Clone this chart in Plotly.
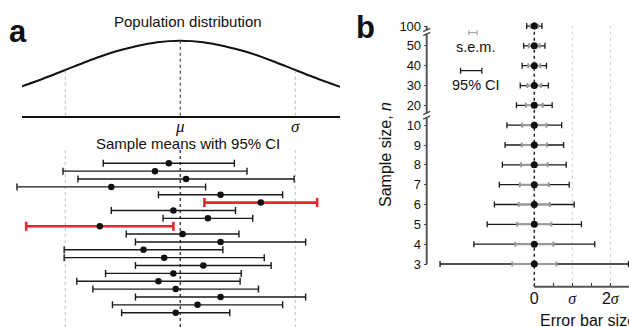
import plotly.graph_objects as go

W, H = 629, 327

# ---------------- data ----------------
# Panel a, population curve: height relative to peak, read at x positions (sigma units)
curve_x = [-1.4, -1.2, -1.0, -0.8, -0.6, -0.4, -0.2, 0.0, 0.2, 0.4, 0.6, 0.8, 1.0, 1.2, 1.4]
curve_y = [0.38, 0.49, 0.61, 0.73, 0.84, 0.92, 0.98, 1.00, 0.98, 0.92, 0.84, 0.73, 0.61, 0.49, 0.38]
curve_ticks = [0, 1]
curve_ticklabels = ['μ', 'σ']

# Panel a, 20 sample means (sigma units, relative to mu) and 95% CI half-widths
sample_means = [-0.10, -0.22, 0.05, -0.60, 0.35, 0.70, -0.06, 0.24, -0.70, 0.02,
                0.35, -0.32, -0.14, 0.20, -0.06, -0.19, -0.04, 0.35, 0.15, -0.04]
ci_half = [0.57, 0.80, 0.94, 0.82, 0.54, 0.49, 0.54, 0.39, 0.64, 0.49,
           0.74, 0.69, 0.87, 0.59, 0.59, 0.71, 0.72, 0.74, 0.74, 0.47]

# Panel b, sample sizes and error bar half-sizes (sigma units)
n_labels = ['3', '4', '5', '6', '7', '8', '9', '10', '20', '30', '40', '50', '100']
sem_size = [0.58, 0.50, 0.45, 0.41, 0.38, 0.35, 0.33, 0.32, 0.22, 0.18, 0.16, 0.14, 0.10]
ci_size = [2.48, 1.59, 1.24, 1.05, 0.92, 0.84, 0.77, 0.72, 0.47, 0.37, 0.32, 0.28, 0.20]
legend_sem_half = 0.11
legend_ci_half = 0.28

# ---------------- geometry helpers (pixel -> paper / data) ----------------
def px(p):
    return p / W

def py(p):
    return 1 - p / H

# panel a: mu at 180.3 px, sigma = 115 px
A_MU, A_SIG = 180.3, 115.0
def ax_(p):
    return (p - A_MU) / A_SIG

# panel a lower rows: row 1 at 163.3 px, 7.863 px per row
ROW0, ROWSTEP = 163.3, 7.863
# panel b: 0 at 534.3 px, sigma = 38 px; n index 0 at 264 px, 19.83 px per step
B_0, B_SIG = 534.3, 38.0
B_Y0, B_YSTEP = 264.0, 19.83
def bx(p):
    return (p - B_0) / B_SIG
def by(p):
    return (B_Y0 - p) / B_YSTEP

fig = go.Figure()

# ---------------- panel a, top ----------------
fig.add_trace(go.Scatter(x=curve_x, y=curve_y, mode='lines',
                         line=dict(color='#111', width=2, shape='spline'),
                         xaxis='x', yaxis='y', hoverinfo='skip'))

curve_at = dict(zip(curve_x, curve_y))
shapes = []
for xv, col, wd in [(0.0, '#555', 1.3), (-1.0, '#bbb', 1), (1.0, '#bbb', 1)]:
    shapes.append(dict(type='line', xref='x', yref='y', x0=xv, x1=xv, y0=0, y1=curve_at[xv],
                       line=dict(color=col, width=wd, dash='dot')))

# ---------------- panel a, bottom ----------------
rows = list(range(1, len(sample_means) + 1))
hit = [i for i in range(len(rows)) if abs(sample_means[i]) <= ci_half[i]]
miss = [i for i in range(len(rows)) if abs(sample_means[i]) > ci_half[i]]

for xv, col, wd in [(0.0, '#444', 1.5), (-1.0, '#ccc', 1.2), (1.0, '#ccc', 1.2)]:
    shapes.append(dict(type='line', xref='x2', yref='y2 domain', x0=xv, x1=xv, y0=0, y1=1,
                       line=dict(color=col, width=wd, dash='dot'), layer='below'))

fig.add_trace(go.Scatter(
    x=[sample_means[i] for i in hit], y=[rows[i] for i in hit], mode='markers',
    marker=dict(size=6.5, color='#111'),
    error_x=dict(type='data', array=[ci_half[i] for i in hit], symmetric=True,
                 color='#1a1a1a', thickness=1.4, width=3.5),
    xaxis='x2', yaxis='y2', hoverinfo='skip'))
fig.add_trace(go.Scatter(
    x=[sample_means[i] for i in miss], y=[rows[i] for i in miss], mode='markers',
    marker=dict(size=6.5, color='#111'),
    error_x=dict(type='data', array=[ci_half[i] for i in miss], symmetric=True,
                 color='#e8262d', thickness=2.6, width=4.5),
    xaxis='x2', yaxis='y2', hoverinfo='skip'))

# ---------------- panel b ----------------
idx = list(range(len(n_labels)))
# reference lines
shapes.append(dict(type='line', xref='x3', yref='y3', x0=0, x1=0, y0=by(286.7), y1=by(22),
                   line=dict(color='#222', width=1.5, dash='dot'), layer='below'))
for xv in [1, 2]:
    shapes.append(dict(type='line', xref='x3', yref='y3', x0=xv, x1=xv, y0=by(286.7), y1=by(26),
                       line=dict(color='#ccc', width=1, dash='dot'), layer='below'))

fig.add_trace(go.Scatter(x=[0] * len(idx), y=idx, mode='markers',
                         marker=dict(size=1, opacity=0),
                         error_x=dict(type='data', array=ci_size, symmetric=True,
                                      color='#1a1a1a', thickness=1.3, width=3),
                         xaxis='x3', yaxis='y3', hoverinfo='skip'))
fig.add_trace(go.Scatter(x=[0] * len(idx), y=idx, mode='markers',
                         marker=dict(size=1, opacity=0),
                         error_x=dict(type='data', array=sem_size, symmetric=True,
                                      color='#999', thickness=2, width=2.5),
                         xaxis='x3', yaxis='y3', hoverinfo='skip'))
fig.add_trace(go.Scatter(x=[0] * len(idx), y=idx, mode='markers',
                         marker=dict(size=7, color='#111'),
                         xaxis='x3', yaxis='y3', hoverinfo='skip'))

# legend symbols
fig.add_trace(go.Scatter(x=[bx(473)], y=[by(32.7)], mode='markers',
                         marker=dict(size=1, opacity=0),
                         error_x=dict(type='data', array=[legend_sem_half], symmetric=True,
                                      color='#999', thickness=1, width=2.5),
                         xaxis='x3', yaxis='y3', hoverinfo='skip'))
fig.add_trace(go.Scatter(x=[bx(471.2)], y=[by(70.7)], mode='markers',
                         marker=dict(size=1, opacity=0),
                         error_x=dict(type='data', array=[legend_ci_half], symmetric=True,
                                      color='#1a1a1a', thickness=1.3, width=3),
                         xaxis='x3', yaxis='y3', hoverinfo='skip'))

# y axis line with breaks
AXX = bx(426.7)
segs = [(0, by(117.5)), (by(113), by(34)), (by(30), 12)]
for y0, y1 in segs:
    shapes.append(dict(type='line', xref='x3', yref='y3', x0=AXX, x1=AXX, y0=y0, y1=y1,
                       line=dict(color='#555', width=2)))
dx, dy = 3.5 / B_SIG, 1.6 / B_YSTEP
for e in [by(117.5), by(113), by(34), by(30)]:
    shapes.append(dict(type='line', xref='x3', yref='y3', x0=AXX - dx, x1=AXX + dx,
                       y0=e - dy, y1=e + dy, line=dict(color='#444', width=1.2)))
# x axis line (starts at 0)
shapes.append(dict(type='line', xref='x3', yref='y3', x0=0, x1=3, y0=by(286.7), y1=by(286.7),
                   line=dict(color='#555', width=2)))

SANS = 'Liberation Sans, Arial, sans-serif'
SERIF = 'Liberation Serif, Times New Roman, serif'

annotations = [
    dict(text='<b>a</b>', x=px(18), y=py(31), xref='paper', yref='paper', showarrow=False,
         font=dict(family='Liberation Sans Narrow, ' + SANS, size=31, color='#111'),
         xanchor='center', yanchor='middle'),
    dict(text='<b>b</b>', x=px(365), y=py(28), xref='paper', yref='paper', showarrow=False,
         font=dict(family='Liberation Sans Narrow, ' + SANS, size=31, color='#111'),
         xanchor='center', yanchor='middle'),
    dict(text='Population distribution', x=px(188), y=py(21), xref='paper', yref='paper',
         showarrow=False, font=dict(family=SANS, size=15, color='#111'),
         xanchor='center', yanchor='middle'),
    dict(text='Sample means with 95% CI', x=px(188), y=py(143), xref='paper', yref='paper',
         showarrow=False, font=dict(family=SANS, size=15, color='#111'),
         xanchor='center', yanchor='middle'),
    dict(text='s.e.m.', x=px(475.7), y=py(47), xref='paper', yref='paper', showarrow=False,
         font=dict(family=SANS, size=14.5, color='#111'), xanchor='center', yanchor='middle'),
    dict(text='95% CI', x=px(475.7), y=py(85), xref='paper', yref='paper', showarrow=False,
         font=dict(family=SANS, size=14.5, color='#111'), xanchor='center', yanchor='middle'),
    dict(text='Sample size, <i>n</i>', x=px(385), y=py(155), xref='paper', yref='paper',
         showarrow=False, textangle=-90, font=dict(family=SANS, size=16, color='#111'),
         xanchor='center', yanchor='middle'),
    dict(text='Error bar size', x=px(538), y=py(320), xref='paper', yref='paper',
         showarrow=False, font=dict(family=SANS, size=16, color='#111'),
         xanchor='left', yanchor='middle'),
]
# mu / sigma labels under the population axis
for xv, lab in zip(curve_ticks, curve_ticklabels):
    annotations.append(dict(text='<i>%s</i>' % lab, x=xv, xref='x', y=py(126.5), yref='paper',
                            showarrow=False, font=dict(family=SERIF, size=17, color='#111'),
                            xanchor='center', yanchor='middle'))

fig.update_layout(
    width=W, height=H,
    margin=dict(l=0, r=0, t=0, b=0),
    paper_bgcolor='white', plot_bgcolor='rgba(0,0,0,0)',
    showlegend=False,
    shapes=shapes, annotations=annotations,
    xaxis=dict(domain=[px(22), px(340)], range=[ax_(22), ax_(340)], anchor='y',
               showline=True, linecolor='#111', linewidth=1.6, showgrid=False, zeroline=False,
               ticks='', showticklabels=False),
    yaxis=dict(domain=[py(115.7), 1], range=[0, 115.7 / 75.0], visible=False, anchor='x'),
    xaxis2=dict(domain=[0, px(340)], range=[ax_(0), ax_(340)], anchor='y2', visible=False),
    yaxis2=dict(domain=[0, py(147)],
                range=[len(rows) + (327 - (ROW0 + (len(rows) - 1) * ROWSTEP)) / ROWSTEP,
                       1 - (ROW0 - 147) / ROWSTEP],
                anchor='x2', visible=False),
    xaxis3=dict(domain=[px(415), 1], range=[bx(415), bx(629)], anchor='free', position=py(286.7),
                showline=False, showgrid=False, zeroline=False,
                ticks='inside', ticklen=4, tickwidth=1.3, tickcolor='#333',
                tickvals=[0, 0.5, 1, 1.5, 2, 2.5],
                ticktext=['<span style="font-family:Liberation Sans">0</span>', '',
                          '<i>σ</i>', '',
                          '<span style="font-family:Liberation Sans">2</span><i>σ</i>', ''],
                tickfont=dict(family=SERIF, size=16, color='#111')),
    yaxis3=dict(domain=[py(300), py(10)], range=[by(300), by(10)], anchor='free',
                position=px(426.7), showline=False, showgrid=False, zeroline=False,
                ticks='outside', ticklen=3, tickwidth=1.2, tickcolor='#444',
                tickvals=idx, ticktext=n_labels,
                tickfont=dict(family=SANS, size=13, color='#111')),
)

fig.write_html('out.html', config={'displayModeBar': False},
               post_script="document.body.style.margin='0';document.body.style.overflow='hidden';")
